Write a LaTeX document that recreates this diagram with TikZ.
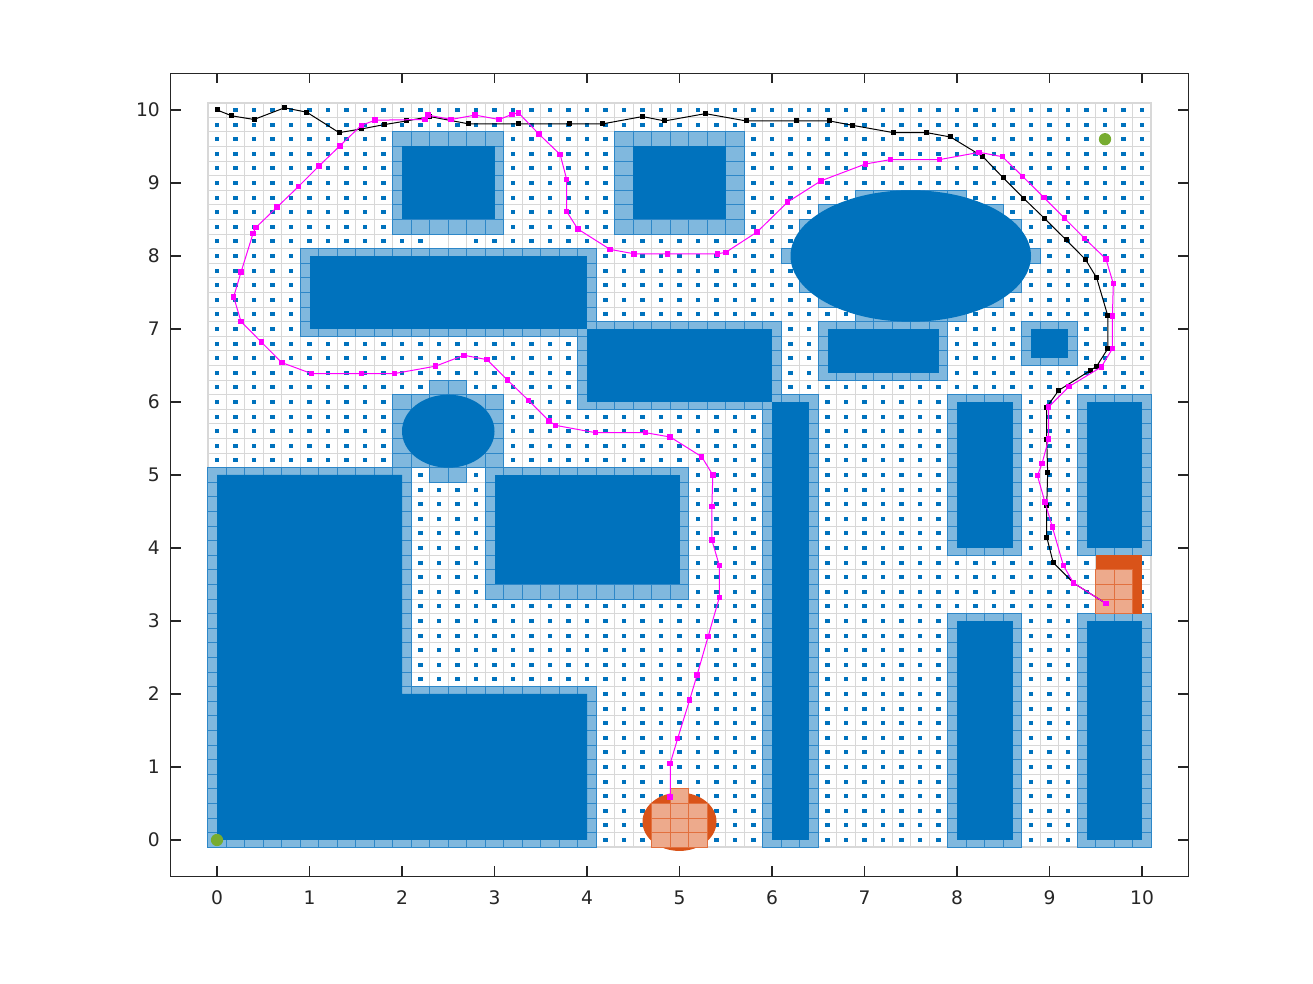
\documentclass[tikz,border=0pt]{standalone}
\usepackage{fontspec}
\setmainfont{DejaVu Sans}
\usetikzlibrary{plotmarks}
\definecolor{mblue}{RGB}{0,114,189}
\definecolor{lblue}{RGB}{128,184,222}
\definecolor{eblue}{RGB}{45,135,200}
\definecolor{gridc}{RGB}{216,216,216}
\definecolor{morange}{RGB}{217,83,25}
\definecolor{lorange}{RGB}{237,170,140}
\definecolor{eorange}{RGB}{226,112,62}
\definecolor{mgreen}{RGB}{119,172,48}
\definecolor{axc}{RGB}{38,38,38}
\definecolor{mmag}{RGB}{255,0,255}
\newcommand\cellrange[4]{%
  \foreach \ci in {#1,...,#2}{\foreach \cj in {#3,...,#4}{%
    \path[cellstyle] ({\ci*0.2-0.1},{\cj*0.2-0.1}) rectangle ++(0.2,0.2);}}}
\newcommand\inflcells{%
  \cellrange{10}{15}{42}{48}%
  \cellrange{22}{28}{42}{48}%
  \cellrange{5}{20}{35}{40}%
  \cellrange{20}{30}{30}{35}%
  \cellrange{35}{40}{36}{36}%
  \cellrange{33}{42}{37}{37}%
  \cellrange{32}{43}{38}{39}%
  \cellrange{31}{44}{40}{40}%
  \cellrange{32}{43}{41}{42}%
  \cellrange{33}{42}{43}{43}%
  \cellrange{35}{40}{44}{44}%
  \cellrange{33}{39}{32}{35}%
  \cellrange{44}{46}{33}{35}%
  \cellrange{12}{13}{31}{31}%
  \cellrange{10}{15}{26}{30}%
  \cellrange{12}{13}{25}{25}%
  \cellrange{0}{10}{0}{25}%
  \cellrange{11}{20}{0}{10}%
  \cellrange{15}{25}{17}{25}%
  \cellrange{30}{32}{0}{30}%
  \cellrange{40}{43}{20}{30}%
  \cellrange{40}{43}{0}{15}%
  \cellrange{47}{50}{20}{30}%
  \cellrange{47}{50}{0}{15}%
}
\newcommand\goalcells{%
  \cellrange{24}{26}{0}{2}%
  \cellrange{25}{25}{3}{3}%
  \cellrange{48}{49}{16}{18}%
}
\begin{document}
\begin{tikzpicture}[x=69.375pt,y=54.75pt]
\useasboundingbox (-2.345946,-1.972603) rectangle (11.848649,11.506849);
\fill[white] (-2.345946,-1.972603) rectangle (11.848649,11.506849);
% grid
\foreach \k in {0,...,51}{%
  \draw[gridc,line width=0.8pt] ({\k*0.2-0.1},-0.1) -- ({\k*0.2-0.1},10.1);
  \draw[gridc,line width=0.8pt] (-0.1,{\k*0.2-0.1}) -- (10.1,{\k*0.2-0.1});}
\draw[gridc,line width=1.4pt] (-0.1,-0.1) rectangle (10.1,10.1);
% dots
\foreach \j in {0,...,40,42,43,...,50}{%
  \foreach \i in {0,...,50}{%
    \fill[mblue] ({\i*0.2},{\j*0.2}) ++(-1.55pt,-1.55pt) rectangle ++(3.1pt,3.1pt);}}
\foreach \i in {0,...,11,14,15,...,50}{%
  \fill[mblue] ({\i*0.2},8.2) ++(-1.55pt,-1.55pt) rectangle ++(3.1pt,3.1pt);}
% inflated cells
\tikzset{cellstyle/.style={fill=lblue}}
\inflcells
\tikzset{cellstyle/.style={draw=eblue,line width=0.75pt}}
\inflcells
% obstacles
\begin{scope}[mblue]
\fill (2,8.5) rectangle (3,9.5);
\fill (4.5,8.5) rectangle (5.5,9.5);
\fill (1,7) rectangle (4,8);
\fill (4,6) rectangle (6,7);
\fill (7.5,8) ellipse [x radius=1.3, y radius=0.9];
\fill (6.6,6.4) rectangle (7.8,7);
\fill (8.8,6.6) rectangle (9.2,7);
\fill (2.5,5.6) ellipse [x radius=0.5, y radius=0.5];
\fill (0,0) -- (4,0) -- (4,2) -- (2,2) -- (2,5) -- (0,5) -- cycle;
\fill (3,3.5) rectangle (5,5);
\fill (6,0) rectangle (6.4,6);
\fill (8,4) rectangle (8.6,6);
\fill (8,0) rectangle (8.6,3);
\fill (9.4,4) rectangle (10,6);
\fill (9.4,0) rectangle (10,3);
\end{scope}
% goal regions
\fill[morange] (5,0.25) ellipse [x radius=0.4, y radius=0.4];
\fill[morange] (9.5,3.1) rectangle (10,3.9);
\tikzset{cellstyle/.style={fill=lorange}}
\goalcells
\tikzset{cellstyle/.style={draw=eorange,line width=0.75pt}}
\goalcells
% paths
\draw[black,line width=0.75pt] plot[mark=square*,mark size=1.5pt,mark options={fill=black,draw=black}] coordinates {
(0,10) (0.16,9.92) (0.40,9.87) (0.73,10.03) (0.97,9.97) (1.32,9.69) (1.56,9.74) (1.81,9.80) (2.05,9.85) (2.30,9.91) (2.72,9.81) (3.26,9.81) (3.81,9.81) (4.17,9.81) (4.60,9.91) (4.84,9.85) (5.28,9.95) (5.72,9.85) (6.26,9.85) (6.62,9.85) (6.87,9.79) (7.31,9.69) (7.67,9.69) (7.93,9.63) (8.28,9.36) (8.50,9.07) (8.72,8.79) (8.95,8.51) (9.18,8.22) (9.39,7.95) (9.51,7.70) (9.63,7.18) (9.63,6.73) (9.51,6.49) (9.44,6.43) (9.10,6.16) (8.97,5.93) (8.97,5.48) (8.98,5.03) (8.97,4.58) (8.97,4.15) (9.04,3.80) (9.26,3.52) (9.61,3.24)};
\draw[mmag,line width=0.75pt] plot[mark=square*,mark size=1.7pt,mark options={fill=mmag,draw=mmag}] coordinates {
(4.90,0.59) (4.90,1.05) (4.98,1.39) (5.11,1.92) (5.19,2.26) (5.31,2.79) (5.43,3.32) (5.43,3.76) (5.35,4.11) (5.35,4.57) (5.36,5.00) (5.24,5.25) (4.90,5.52) (4.63,5.58) (4.09,5.58) (3.66,5.68) (3.59,5.74) (3.37,6.02) (3.14,6.30) (2.92,6.58) (2.67,6.64) (2.36,6.49) (1.92,6.39) (1.56,6.39) (1.02,6.39) (0.70,6.54) (0.48,6.82) (0.26,7.10) (0.18,7.44) (0.26,7.78) (0.39,8.31) (0.42,8.39) (0.65,8.67) (0.88,8.95) (1.10,9.23) (1.33,9.51) (1.56,9.79) (1.71,9.86) (2.25,9.87) (2.28,9.93) (2.53,9.87) (2.79,9.93) (3.05,9.87) (3.19,9.94) (3.26,9.96) (3.48,9.67) (3.71,9.39) (3.78,9.05) (3.78,8.61) (3.90,8.37) (4.25,8.09) (4.51,8.03) (4.87,8.03) (5.41,8.03) (5.50,8.05) (5.84,8.33) (6.17,8.74) (6.53,9.03) (7.01,9.26) (7.28,9.32) (7.81,9.32) (8.24,9.42) (8.49,9.36) (8.71,9.09) (8.94,8.80) (9.16,8.52) (9.38,8.24) (9.61,7.96) (9.69,7.62) (9.68,7.18) (9.68,6.73) (9.56,6.48) (9.21,6.21) (8.99,5.93) (8.99,5.49) (8.92,5.16) (8.87,4.99) (8.95,4.63) (9.03,4.29) (9.15,3.76) (9.26,3.52) (9.61,3.24)};
% start and goal points
\fill[mgreen] (0,0) circle [radius=4.6pt];
\fill[mgreen] (9.6,9.6) circle [radius=4.6pt];
% axes
\draw[axc,line width=0.8pt] (-0.5,-0.5) rectangle (10.5,10.5);
\foreach \k in {0,...,10}{%
  \draw[axc,line width=0.8pt] (\k,-0.5) -- ++(0,7.5pt);
  \draw[axc,line width=0.8pt] (\k,10.5) -- ++(0,-7.5pt);
  \draw[axc,line width=0.8pt] (-0.5,\k) -- ++(7.5pt,0);
  \draw[axc,line width=0.8pt] (10.5,\k) -- ++(-7.5pt,0);
  \node[text=axc,inner sep=0pt,font=\fontsize{14pt}{16pt}\selectfont,anchor=center,yshift=-16pt] (xl\k) at (\k,-0.5) {\k};
  \node[text=axc,inner sep=0pt,font=\fontsize{14pt}{16pt}\selectfont,anchor=east,xshift=-8pt] (yl\k) at (-0.5,\k) {\k};}
\end{tikzpicture}
\end{document}
